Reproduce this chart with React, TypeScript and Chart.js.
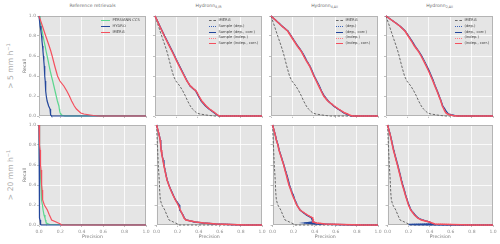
import React, { useEffect, useRef } from "react";
import { Chart, registerables } from "chart.js";
Chart.register(...registerables);

// ---------------- data ----------------
const RECALL = [1, 0.95, 0.9, 0.85, 0.8, 0.75, 0.7, 0.65, 0.6, 0.55, 0.5, 0.45, 0.4, 0.35, 0.3, 0.25, 0.2, 0.15, 0.1, 0.07, 0.05, 0.03, 0.02, 0.01, 0.005, 0, 0];
const X_TICKS = ["0.0", "0.2", "0.4", "0.6", "0.8", "1.0"];
const COL_TITLES = ["Reference retrievals", "Hydronn|4,IR", "Hydronn|4,All", "Hydronn|2,All"];
const ROW_LABELS = ["> 5 mm h", "> 20 mm h"];
const REF_LABELS = ["PERSIANN CCS", "HYDRO", "IMERG"];
const SAMPLE_LABELS_LONG = ["IMERG", "Sample (dep.)", "Sample (dep., corr.)", "Sample (indep.)", "Sample (indep., corr.)"];
const SAMPLE_LABELS_SHORT = ["IMERG", "(dep.)", "(dep., corr.)", "(indep.)", "(indep., corr.)"];

// > 5 mm/h (precision at each recall level)
const REF5_PERSIANN = [0, .009, .019, .029, .038, .047, .057, .066, .076, .086, .095, .105, .116, .128, .139, .15, .161, .172, .186, .19, .193, .198, .203, .212, .225, .243, 1];
const REF5_HYDRO = [0, .005, .01, .018, .024, .028, .033, .037, .041, .045, .049, .052, .055, .058, .061, .064, .068, .076, .09, .103, .105, .107, .109, .112, .115, .118, 1];
const REF5_IMERG = [0, .016, .032, .047, .063, .079, .095, .11, .123, .135, .147, .16, .173, .195, .232, .26, .284, .305, .33, .35, .37, .39, .42, .477, .51, .555, 1];

const H4IR5_DEP = [0, .022, .044, .067, .089, .113, .136, .16, .183, .205, .228, .252, .276, .3, .332, .383, .408, .435, .475, .507, .533, .558, .57, .583, .595, .61, 1];
const H4IR5_DEPC = [0, .023, .045, .068, .09, .114, .138, .161, .184, .206, .229, .253, .277, .301, .328, .38, .405, .432, .472, .505, .53, .555, .568, .58, .59, .605, 1];
const H4IR5_IND = [0, .021, .044, .066, .088, .112, .135, .158, .181, .204, .227, .251, .275, .3, .335, .38, .412, .44, .48, .512, .538, .565, .575, .59, .6, .61, 1];
const H4IR5_INDC = [0, .022, .043, .065, .087, .11, .133, .157, .18, .202, .225, .249, .273, .297, .33, .385, .41, .437, .478, .509, .535, .562, .572, .586, .593, .6, 1];

const H4ALL5_DEP = [0, .051, .102, .157, .188, .218, .248, .283, .31, .334, .362, .383, .403, .426, .45, .47, .496, .533, .588, .628, .658, .685, .705, .725, .74, .755, 1];
const H4ALL5_DEPC = [0, .052, .103, .158, .19, .22, .25, .285, .312, .336, .364, .385, .404, .428, .452, .472, .498, .535, .585, .625, .655, .68, .7, .72, .735, .75, 1];
const H4ALL5_IND = [0, .051, .102, .156, .187, .217, .247, .282, .307, .332, .362, .382, .402, .425, .448, .47, .495, .533, .595, .635, .665, .695, .72, .735, .75, .77, 1];
const H4ALL5_INDC = [0, .05, .1, .155, .185, .215, .245, .28, .305, .33, .36, .38, .4, .423, .445, .468, .492, .53, .59, .63, .66, .69, .717, .73, .745, .76, 1];

const H2ALL5_DEP = [0, .065, .129, .179, .21, .241, .27, .303, .332, .356, .38, .402, .422, .441, .459, .479, .496, .514, .529, .548, .558, .57, .585, .615, .635, .69, 1];
const H2ALL5_DEPC = [0, .066, .13, .18, .212, .243, .272, .305, .334, .358, .382, .404, .424, .443, .46, .48, .497, .515, .53, .55, .56, .575, .59, .62, .64, .7, 1];
const H2ALL5_IND = [0, .065, .129, .178, .209, .239, .267, .302, .33, .354, .377, .4, .42, .44, .458, .478, .496, .514, .528, .543, .552, .565, .58, .605, .63, .67, 1];
const H2ALL5_INDC = [0, .064, .128, .177, .207, .237, .265, .3, .328, .352, .375, .398, .418, .438, .456, .476, .494, .512, .526, .54, .548, .56, .575, .6, .625, .66, 1];

// > 20 mm/h
const REF20_PERSIANN = [0, .001, .002, .003, .004, .005, .006, .008, .009, .011, .014, .018, .019, .021, .023, .026, .032, .038, .047, .056, .06, .065, .07, .09, .103, .66, 1];
const REF20_HYDRO = [0, .001, .001, .002, .002, .003, .003, .003, .004, .004, .004, .005, .005, .005, .006, .006, .006, .007, .008, .009, .01, .012, .014, .016, .018, .02, 1];
const REF20_IMERG = [0, .002, .004, .006, .008, .01, .012, .014, .016, .019, .022, .025, .027, .029, .032, .036, .05, .078, .097, .11, .118, .16, .18, .2, .205, .212, 1];

const H4IR20_DEP = [0, .012, .025, .035, .04, .044, .052, .062, .07, .08, .09, .101, .118, .137, .158, .182, .212, .222, .252, .264, .282, .365, .445, .565, .695, .845, 1];
const H4IR20_DEPC = [0, .012, .025, .035, .04, .044, .052, .062, .07, .08, .09, .1, .117, .136, .158, .18, .215, .22, .25, .262, .28, .36, .44, .56, .69, .84, 1];
const H4IR20_IND = [0, .012, .024, .035, .039, .043, .051, .061, .069, .079, .089, .1, .116, .135, .156, .18, .207, .227, .25, .263, .28, .375, .455, .575, .71, .86, 1];
const H4IR20_INDC = [0, .012, .024, .034, .038, .042, .05, .06, .068, .078, .088, .099, .115, .134, .155, .178, .205, .225, .247, .26, .278, .37, .45, .57, .7, .85, 1];

const H4ALL20_DEP = [0, .013, .026, .037, .052, .063, .078, .093, .108, .121, .136, .149, .161, .177, .196, .213, .234, .262, .322, .372, .377, .392, .3, .41, .61, .83, 1];
const H4ALL20_DEPC = [0, .013, .026, .037, .052, .062, .077, .092, .107, .12, .135, .148, .16, .176, .195, .212, .232, .26, .32, .37, .375, .39, .31, .42, .6, .82, 1];
const H4ALL20_IND = [0, .012, .025, .036, .051, .061, .076, .091, .106, .118, .131, .143, .157, .174, .19, .21, .23, .265, .335, .385, .39, .385, .425, .505, .655, .855, 1];
const H4ALL20_INDC = [0, .012, .025, .035, .05, .06, .075, .09, .105, .117, .13, .142, .155, .172, .188, .208, .228, .26, .33, .38, .385, .38, .42, .5, .65, .85, 1];

const H2ALL20_DEP = [0, .013, .026, .037, .048, .059, .071, .084, .097, .109, .121, .132, .145, .159, .172, .187, .203, .224, .262, .292, .335, .405, .415, .435, .22, .71, 1];
const H2ALL20_DEPC = [0, .013, .026, .037, .047, .058, .07, .083, .096, .108, .12, .131, .144, .158, .171, .186, .202, .222, .26, .29, .33, .4, .41, .43, .2, .7, 1];
const H2ALL20_IND = [0, .012, .025, .035, .046, .056, .069, .081, .094, .106, .118, .129, .141, .156, .17, .185, .2, .22, .258, .288, .325, .4, .425, .455, .61, .81, 1];
const H2ALL20_INDC = [0, .012, .025, .035, .045, .055, .068, .08, .093, .105, .117, .128, .14, .155, .168, .183, .198, .218, .255, .284, .32, .395, .42, .45, .6, .8, 1];

// ---------------- styling ----------------
const FONT = "'DejaVu Sans', sans-serif";
const C_RED = "#f4505e";
const C_RED_DOT = "#ff7d88";
const C_BLUE = "#23479c";
const C_BLUE_DOT = "#3a62b8";
const C_GREEN = "#5cd68e";
const C_GRAY = "#6a6a6a";

const COL_L = [39, 155, 271, 386];
const COL_W = 107;
const ROW_T = [16, 125];
const ROW_H = 100;

type Series = { label: string; p: number[]; color: string; dash?: number[]; width: number; order: number };

function refSeries(pers: number[], hydro: number[], imerg: number[]): Series[] {
  return [
    { label: REF_LABELS[0], p: pers, color: C_GREEN, width: 1.2, order: 2 },
    { label: REF_LABELS[1], p: hydro, color: C_BLUE, width: 1.2, order: 1 },
    { label: REF_LABELS[2], p: imerg, color: C_RED, width: 1.2, order: 0 },
  ];
}
function sampleSeries(labels: string[], imerg: number[], dep: number[], depc: number[], ind: number[], indc: number[]): Series[] {
  return [
    { label: labels[0], p: imerg, color: C_GRAY, dash: [2.5, 1.5], width: 1, order: 4 },
    { label: labels[1], p: dep, color: C_BLUE_DOT, dash: [1, 1], width: 1.2, order: 3 },
    { label: labels[2], p: depc, color: C_BLUE, width: 1.3, order: 2 },
    { label: labels[3], p: ind, color: C_RED_DOT, dash: [1, 1], width: 1.2, order: 1 },
    { label: labels[4], p: indc, color: C_RED, width: 1.4, order: 0 },
  ];
}

const PANELS: Series[][][] = [
  [
    refSeries(REF5_PERSIANN, REF5_HYDRO, REF5_IMERG),
    sampleSeries(SAMPLE_LABELS_LONG, REF5_IMERG, H4IR5_DEP, H4IR5_DEPC, H4IR5_IND, H4IR5_INDC),
    sampleSeries(SAMPLE_LABELS_SHORT, REF5_IMERG, H4ALL5_DEP, H4ALL5_DEPC, H4ALL5_IND, H4ALL5_INDC),
    sampleSeries(SAMPLE_LABELS_SHORT, REF5_IMERG, H2ALL5_DEP, H2ALL5_DEPC, H2ALL5_IND, H2ALL5_INDC),
  ],
  [
    refSeries(REF20_PERSIANN, REF20_HYDRO, REF20_IMERG),
    sampleSeries(SAMPLE_LABELS_LONG, REF20_IMERG, H4IR20_DEP, H4IR20_DEPC, H4IR20_IND, H4IR20_INDC),
    sampleSeries(SAMPLE_LABELS_SHORT, REF20_IMERG, H4ALL20_DEP, H4ALL20_DEPC, H4ALL20_IND, H4ALL20_INDC),
    sampleSeries(SAMPLE_LABELS_SHORT, REF20_IMERG, H2ALL20_DEP, H2ALL20_DEPC, H2ALL20_IND, H2ALL20_INDC),
  ],
];

const framePlugin = {
  id: "frame",
  beforeDraw(chart: any) {
    const { ctx, chartArea: a } = chart;
    ctx.save();
    ctx.fillStyle = "#e5e5e5";
    ctx.fillRect(a.left, a.top, a.right - a.left, a.bottom - a.top);
    ctx.restore();
  },
  beforeDatasetsDraw(chart: any) {
    const { ctx, chartArea: a } = chart;
    ctx.save();
    ctx.strokeStyle = "#b4b4b4";
    ctx.lineWidth = 1;
    ctx.strokeRect(Math.round(a.left) + 0.5, Math.round(a.top) + 0.5, Math.round(a.right - a.left) - 1, Math.round(a.bottom - a.top) - 1);
    ctx.restore();
  },
};

function Panel({ row, col }: { row: number; col: number }) {
  const ref = useRef<HTMLCanvasElement>(null);
  const yw = col === 0 ? 17 : 4;
  const xh = row === 1 ? 15 : 4;
  const padT = 4;
  const padR = 6;
  const left = COL_L[col] - yw;
  const top = ROW_T[row] - padT;
  const w = yw + COL_W + padR;
  const h = padT + ROW_H + xh;

  useEffect(() => {
    const series = PANELS[row][col];
    const chart = new Chart(ref.current as HTMLCanvasElement, {
      type: "scatter",
      data: {
        datasets: series.map((s) => ({
          label: s.label,
          data: RECALL.map((r, i) => ({ x: s.p[i], y: r })),
          showLine: true,
          borderColor: s.color,
          backgroundColor: s.color,
          borderWidth: s.width,
          borderDash: s.dash || [],
          pointRadius: 0,
          tension: 0,
          order: s.order,
          clip: false as any,
        })),
      },
      options: {
        animation: false,
        responsive: false,
        maintainAspectRatio: false,
        events: [],
        layout: { padding: { top: padT, right: padR, left: 0, bottom: 0 } },
        plugins: { legend: { display: false }, tooltip: { enabled: false }, title: { display: false } },
        scales: {
          x: {
            type: "linear",
            min: 0,
            max: 1,
            afterFit: (s: any) => { s.height = xh; },
            ticks: {
              display: row === 1,
              stepSize: 0.2,
              autoSkip: false,
              maxRotation: 0,
              padding: 2,
              color: "#8c8c8c",
              font: { family: FONT, size: 4.5 },
              callback: (v: any) => X_TICKS[Math.round(Number(v) * 5)] ?? "",
            },
            grid: { color: "#ffffff", lineWidth: 0.8, tickLength: 2, tickColor: "#b0b0b0", drawTicks: true },
            border: { display: false },
            title: { display: row === 1, text: "Precision", color: "#7a7a7a", padding: 0, font: { family: FONT, size: 4.7 } },
          },
          y: {
            type: "linear",
            min: 0,
            max: 1,
            afterFit: (s: any) => { s.width = yw; },
            ticks: {
              display: col === 0,
              stepSize: 0.2,
              autoSkip: false,
              padding: 1,
              color: "#8c8c8c",
              font: { family: FONT, size: 4.5 },
              callback: (v: any) => X_TICKS[Math.round(Number(v) * 5)] ?? "",
            },
            grid: { color: "#ffffff", lineWidth: 0.8, tickLength: 2, tickColor: "#b0b0b0", drawTicks: true },
            border: { display: false },
            title: { display: col === 0, text: "Recall", color: "#7a7a7a", padding: 0, font: { family: FONT, size: 4.7 } },
          },
        },
      },
      plugins: [framePlugin],
    });
    return () => chart.destroy();
  }, []);

  return (
    <canvas
      ref={ref}
      width={w}
      height={h}
      style={{ position: "absolute", left, top, width: w, height: h }}
    />
  );
}

function LegendBox({ row, col }: { row: number; col: number }) {
  const series = PANELS[row][col];
  const sampleW = col === 0 ? 9 : 7;
  const lx = col === 0 ? 101 : [0, 209, 336, 455][col];
  return (
    <div style={{ position: "absolute", left: lx, top: 18, fontFamily: FONT, fontSize: 3.7, color: "#444", lineHeight: "5.75px" }}>
      {series.map((s) => (
        <div key={s.label} style={{ display: "flex", alignItems: "center", height: 5.75, whiteSpace: "nowrap" }}>
          <div
            style={{
              width: sampleW,
              height: 0,
              borderTop: `${s.dash ? 1 : 1.2}px ${s.dash ? (s.dash[0] > 1.5 ? "dashed" : "dotted") : "solid"} ${s.color}`,
              marginRight: 2.5,
            }}
          />
          <span>{s.label}</span>
        </div>
      ))}
    </div>
  );
}

export default function App() {
  return (
    <div style={{ position: "absolute", left: 0, top: 0, width: 500, height: 244, background: "#fff", overflow: "hidden", fontFamily: FONT }}>
      {COL_TITLES.map((t, c) => {
        const [main, sub] = t.split("|");
        return (
          <div key={t} style={{ position: "absolute", left: COL_L[c], width: COL_W, top: 2, textAlign: "center", fontSize: 4.6, color: "#6e6e6e", lineHeight: "8px" }}>
            {main}
            {sub ? <sub style={{ fontSize: 3.3, verticalAlign: "-1px" }}>{sub}</sub> : null}
          </div>
        );
      })}
      {ROW_LABELS.map((t, r) => (
        <div
          key={t}
          style={{
            position: "absolute",
            left: 8 - 35,
            top: ROW_T[r] + ROW_H / 2 - 5,
            width: 70,
            height: 10,
            lineHeight: "10px",
            textAlign: "center",
            fontSize: 7.6,
            color: "#ababab",
            transform: "rotate(-90deg)",
            whiteSpace: "nowrap",
          }}
        >
          {t}
          <sup style={{ fontSize: 5, verticalAlign: "3px" }}>−1</sup>
        </div>
      ))}
      {[0, 1].map((r) => [0, 1, 2, 3].map((c) => <Panel key={`${r}-${c}`} row={r} col={c} />))}
      {[0, 1, 2, 3].map((c) => <LegendBox key={`lg-${c}`} row={0} col={c} />)}
    </div>
  );
}
